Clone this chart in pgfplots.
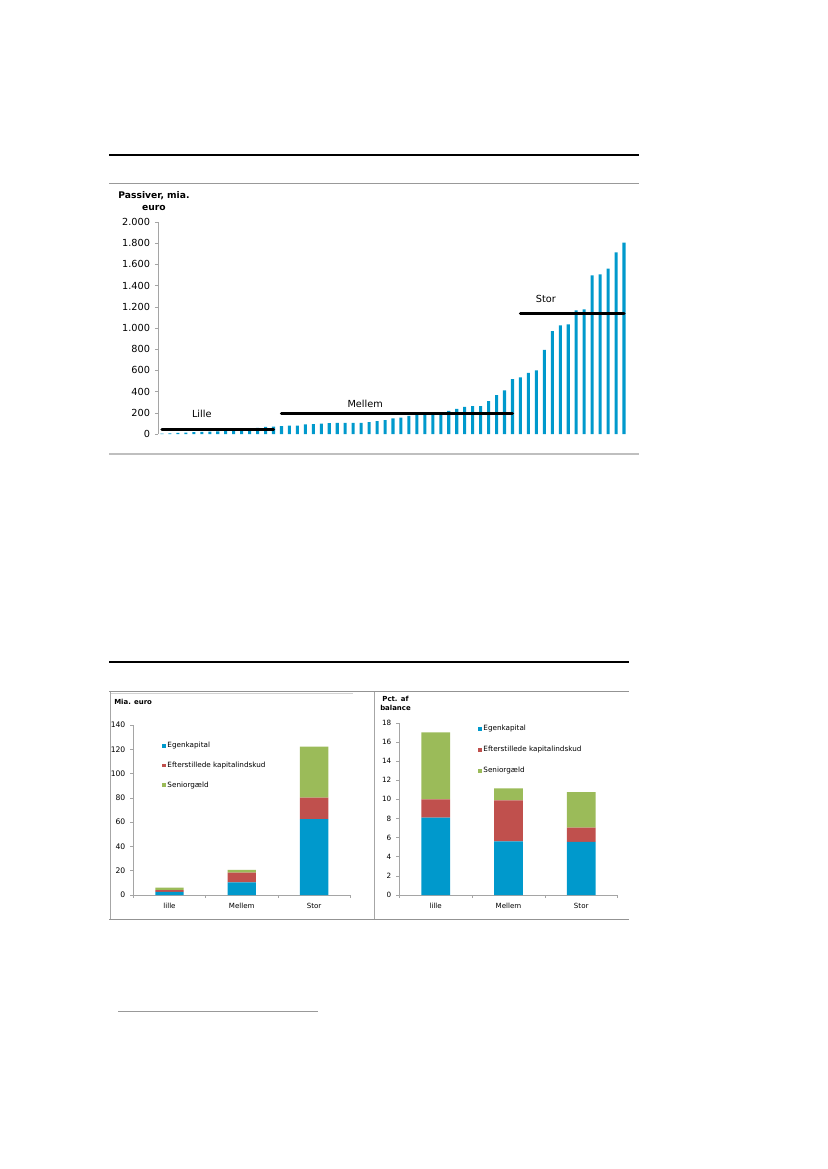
\documentclass[border=0pt]{standalone}
\usepackage{pgfplots}
\pgfplotsset{compat=1.18}
\usepackage{fontspec}
\setmainfont{DejaVu Sans}

\definecolor{egen}{RGB}{0,153,204}
\definecolor{eft}{RGB}{192,80,77}
\definecolor{senior}{RGB}{155,187,89}
\definecolor{axgray}{RGB}{165,165,165}

\pgfplotsset{
  excel/.style={
    scale only axis,
    axis line style={axgray},
    tick style={axgray, line width=0.4pt},
    tick align=outside,
    major tick length=2.2pt,
    ymin=0,
    /pgf/number format/assume math mode=true,
    /pgf/number format/1000 sep={.},
  },
  sqlegend/.style={
    legend image code/.code={\fill[##1] (0pt,-1.4pt) rectangle (2.8pt,1.4pt);},
    legend cell align=left,
    legend style={draw=none, fill=none, inner sep=0pt, row sep=#1,
      nodes={inner sep=1pt}},
  },
}

\begin{document}
\begin{tikzpicture}[x=0.72pt,y=-0.72pt]
\path (0,0) rectangle (827,1169);

% frame rules, top chart
\draw[black, line width=1.3pt] (109,155) -- (639,155);
\draw[gray!80, line width=0.5pt] (109,183) -- (639,183);
\draw[gray!50, line width=1.2pt] (109,454) -- (639,454);

% frame rules, bottom charts
\draw[black, line width=1.3pt] (109,662) -- (629,662);
\draw[gray!85, line width=0.6pt] (109,691.5) -- (629,691.5);
\draw[gray!35, line width=0.5pt] (111,693.5) -- (353,693.5);
\draw[gray!70, line width=0.5pt] (110.7,691.5) -- (110.7,919.5);
\draw[gray!70, line width=0.5pt] (374,691.5) -- (374,919.5);
\draw[gray!85, line width=0.6pt] (109,919.5) -- (629,919.5);

% footnote rule
\draw[gray!80, line width=0.6pt] (118,1011) -- (318,1011);

% titles
\node[font=\bfseries\fontsize{6.6}{8.6}\selectfont, align=center] at (154,201) {Passiver, mia.\\euro};
\node[font=\bfseries\fontsize{5}{6}\selectfont, anchor=west, inner sep=0pt] at (114,702) {Mia. euro};
\node[font=\bfseries\fontsize{5}{6}\selectfont, align=center] at (395.5,703.5) {Pct. af\\balance};

% top chart: liabilities per bank
\begin{axis}[excel, at={(113.76pt,-312.48pt)}, anchor=south west,
  width=338.4pt, height=152.6pt,
  xmin=-0.5, xmax=58.5, ymax=2000, ytick distance=200,
  axis y line*=left, axis x line=none, xtick=\empty,
  tick label style={font=\fontsize{7}{8}\selectfont},
  clip=false]
\addplot[ybar, bar width=2.2pt, fill=egen, draw=none] coordinates {
 (0,3) (1,6) (2,10) (3,14) (4,17) (5,20) (6,22) (7,25) (8,27) (9,30)
 (10,32) (11,36) (12,58) (13,68) (14,70)
 (15,75) (16,78) (17,80) (18,90) (19,94) (20,98) (21,103) (22,104) (23,104) (24,105)
 (25,106) (26,112) (27,122) (28,132) (29,148) (30,155) (31,172) (32,178) (33,180) (34,182)
 (35,185) (36,219) (37,236) (38,255) (39,264) (40,264) (41,311) (42,368) (43,412) (44,519)
 (45,535) (46,576) (47,601) (48,793) (49,972) (50,1025) (51,1035) (52,1167) (53,1176)
 (54,1497) (55,1506) (56,1560) (57,1714) (58,1805)
};
\addplot[black, line width=2.2pt, line cap=round] coordinates {(0,40) (14,40)};
\addplot[black, line width=2.2pt, line cap=round] coordinates {(15,190) (44,190)};
\addplot[black, line width=2.2pt, line cap=round] coordinates {(45,1140) (58,1140)};
\node[font=\fontsize{7}{8}\selectfont] at (axis cs:5,186) {Lille};
\node[font=\fontsize{7}{8}\selectfont] at (axis cs:25.5,283) {Mellem};
\node[font=\fontsize{7}{8}\selectfont] at (axis cs:48.2,1274) {Stor};
\end{axis}

% bottom left: billion euro
\begin{axis}[excel, at={(95.98pt,-644.4pt)}, anchor=south west,
  width=156.2pt, height=122.4pt,
  xmin=-0.5, xmax=2.5, ymax=140, ytick distance=20,
  axis lines*=left,
  xtick={-0.5,0.5,1.5,2.5}, x tick label as interval,
  xticklabels={lille,Mellem,Stor},
  yticklabel style={font=\fontsize{5.5}{6.5}\selectfont},
  xticklabel style={font=\fontsize{5.1}{6}\selectfont},
  ybar stacked, bar width=20.4pt, sqlegend=6.8pt,
  legend style={at={(0.132,0.91)}, anchor=north west,
    font=\fontsize{5.2}{6}\selectfont}]
\addplot[fill=egen, draw=none] coordinates {(0,2.5) (1,10.4) (2,62.5)};
\addplot[fill=eft, draw=none] coordinates {(0,1.6) (1,8.0) (2,17.7)};
\addplot[fill=senior, draw=none] coordinates {(0,2.0) (1,2.2) (2,42.0)};
\legend{Egenkapital, Efterstillede kapitalindskud, Seniorgæld}
\end{axis}

% bottom right: percent of balance
\begin{axis}[excel, at={(287.5pt,-644.4pt)}, anchor=south west,
  width=157.2pt, height=124pt,
  xmin=-0.5, xmax=2.5, ymax=18, ytick distance=2,
  axis lines*=left,
  xtick={-0.5,0.5,1.5,2.5}, x tick label as interval,
  xticklabels={lille,Mellem,Stor},
  yticklabel style={font=\fontsize{5.2}{6.2}\selectfont},
  xticklabel style={font=\fontsize{5.1}{6}\selectfont},
  ybar stacked, bar width=20.7pt, sqlegend=7.6pt,
  legend style={at={(0.36,0.995)}, anchor=north west,
    font=\fontsize{5.2}{6}\selectfont}]
\addplot[fill=egen, draw=none] coordinates {(0,8.1) (1,5.6) (2,5.55)};
\addplot[fill=eft, draw=none] coordinates {(0,1.9) (1,4.3) (2,1.5)};
\addplot[fill=senior, draw=none] coordinates {(0,7.0) (1,1.25) (2,3.7)};
\legend{Egenkapital, Efterstillede kapitalindskud, Seniorgæld}
\end{axis}
\end{tikzpicture}
\end{document}
